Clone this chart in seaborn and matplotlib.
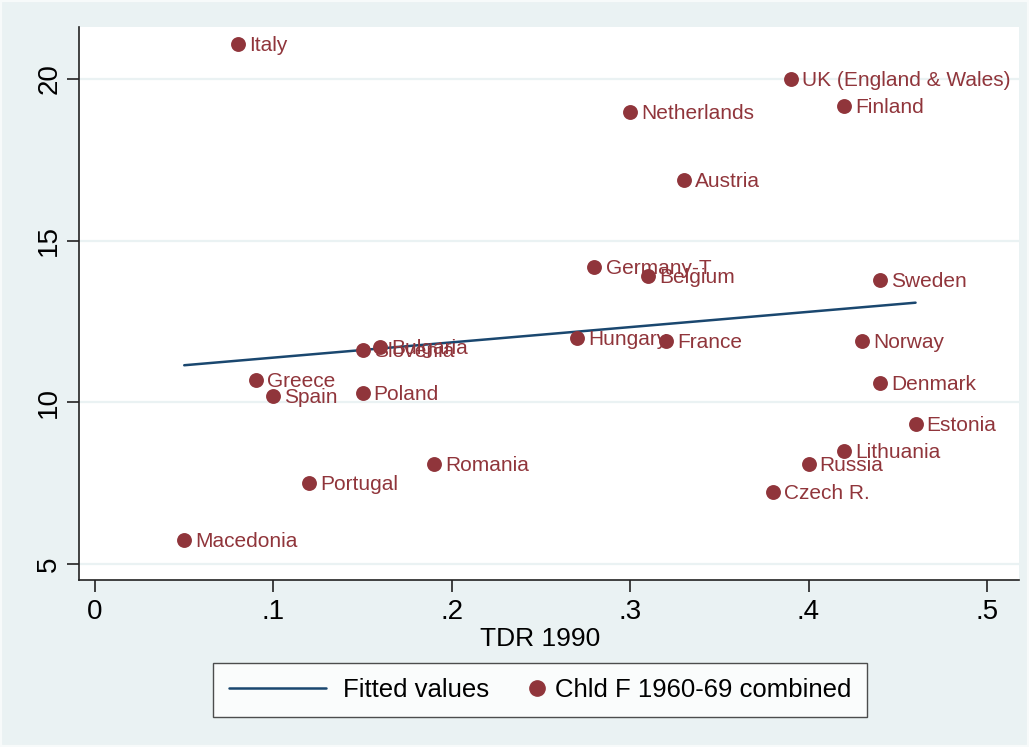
import numpy as np
import pandas as pd
import matplotlib
matplotlib.use("Agg")
import matplotlib.pyplot as plt
from matplotlib.lines import Line2D
from matplotlib.legend_handler import HandlerLine2D
from matplotlib.patches import Rectangle
import seaborn as sns

countries = ["Italy", "UK (England & Wales)", "Finland", "Netherlands", "Austria",
             "Germany-T", "Belgium", "Sweden", "Hungary", "France", "Norway",
             "Slovenia", "Bulgaria", "Greece", "Spain", "Poland", "Denmark",
             "Estonia", "Lithuania", "Romania", "Russia", "Portugal", "Czech R.",
             "Macedonia"]
tdr1990 = [0.08, 0.39, 0.42, 0.30, 0.33, 0.28, 0.31, 0.44, 0.27, 0.32, 0.43,
           0.15, 0.16, 0.09, 0.10, 0.15, 0.44, 0.46, 0.42, 0.19, 0.40, 0.12,
           0.38, 0.05]
chld_f = [21.08, 20.0, 19.16, 18.98, 16.88, 14.19, 13.91, 13.78, 11.99, 11.90,
          11.90, 11.62, 11.71, 10.69, 10.19, 10.29, 10.60, 9.33, 8.49, 8.09,
          8.09, 7.50, 7.23, 5.74]
x_ticks = [0, 0.1, 0.2, 0.3, 0.4, 0.5]
x_tick_labels = ["0", ".1", ".2", ".3", ".4", ".5"]
y_ticks = [5, 10, 15, 20]
legend_labels = ["Fitted values", "Chld F 1960-69 combined"]

df = pd.DataFrame({"country": countries, "tdr": tdr1990, "chld": chld_f})

# fitted values (OLS)
b1, b0 = np.polyfit(df["tdr"], df["chld"], 1)
df["fit"] = b0 + b1 * df["tdr"]
fit_df = df.sort_values("tdr")

BG = "#EAF2F3"
NAVY = "#1A476F"
MAROON = "#90353B"

sns.set_theme(style="white")
plt.rcParams["font.family"] = ["Liberation Sans", "DejaVu Sans"]

fig = plt.figure(figsize=(10.29, 7.47), dpi=100, facecolor=BG)
fig.patches.append(Rectangle((0, 0), 1, 1, transform=fig.transFigure,
                             facecolor="none", edgecolor="#F7FAFA", lw=3,
                             zorder=10))
ax = fig.add_axes([79/1029, 1-580/747, (1019-79)/1029, (580-27)/747])
ax.set_facecolor("white")

for yt in y_ticks:
    ax.axhline(yt, color=BG, lw=1.6, zorder=0)

sns.lineplot(data=fit_df, x="tdr", y="fit", ax=ax, color=NAVY, lw=1.8,
             zorder=2, legend=False)
sns.scatterplot(data=df, x="tdr", y="chld", ax=ax, color=MAROON, s=115,
                edgecolor=MAROON, linewidth=0, zorder=3, legend=False)

for _, r in df.iterrows():
    ax.annotate(r["country"], (r["tdr"], r["chld"]), xytext=(8, -1),
                textcoords="offset points", va="center", ha="left",
                color=MAROON, fontsize=15, zorder=4)

ax.set_xlim(-0.009, 0.518)
ax.set_ylim(4.5, 21.61)
ax.set_xticks(x_ticks)
ax.set_xticklabels(x_tick_labels)
ax.set_yticks(y_ticks)
ax.set_yticklabels([str(v) for v in y_ticks], rotation=90, va="center")
ax.tick_params(axis="both", direction="out", length=8.5, width=1.2,
               color="#222222", labelcolor="black", labelsize=20, pad=5,
               left=True, bottom=True)
ax.tick_params(axis="y", pad=3.5)
ax.set_xlabel("TDR 1990", fontsize=19, labelpad=3, color="black")
ax.xaxis.set_label_coords((540 - 79) / 940, -0.085)
ax.set_ylabel("")
for side in ["top", "right"]:
    ax.spines[side].set_visible(False)
for side in ["left", "bottom"]:
    ax.spines[side].set_color("#222222")
    ax.spines[side].set_linewidth(1.2)


class RightMarker(HandlerLine2D):
    def get_xdata(self, legend, xdescent, ydescent, width, height, fontsize):
        x = np.array([-xdescent + width - 0.05 * fontsize])
        return x, x


h_line = Line2D([], [], color=NAVY, lw=1.8)
h_mark = Line2D([], [], ls="none", marker="o", ms=11, color=MAROON)
leg = fig.legend([h_line, h_mark], legend_labels, loc="center", ncol=2,
                 bbox_to_anchor=(540/1029, 1-690/747), frameon=True,
                 fancybox=False, edgecolor="#222222", fontsize=18.5,
                 handlelength=3.8, columnspacing=-1.9, borderpad=0.6,
                 handletextpad=0.65, handler_map={h_mark: RightMarker()})
leg.get_frame().set_linewidth(1.0)
leg.get_frame().set_facecolor("white")
for t in leg.get_texts():
    t.set_color("black")

fig.savefig("out.png", dpi=100, facecolor=BG)
